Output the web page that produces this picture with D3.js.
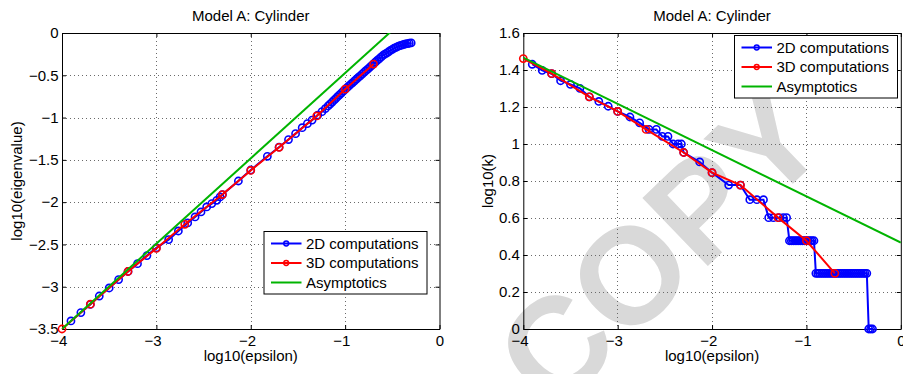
<!DOCTYPE html>
<html>
<head>
<meta charset="utf-8">
<script src="https://cdn.jsdelivr.net/npm/d3@7"></script>
<style>
  body { margin: 0; background: #fff; }
  svg { font-family: "Liberation Sans", Arial, Helvetica, sans-serif; }
  .grid line { stroke: #6a6a6a; stroke-dasharray: 1,3; shape-rendering: crispEdges; }
</style>
</head>
<body>
<svg id="chart" width="903" height="374"></svg>
<script>
// ---- data ----
// log10(epsilon) of the 2D runs, shared by both panels
const eps2D = [-3.905, -3.80, -3.70, -3.605, -3.50, -3.40, -3.30, -3.20, -3.10, -3.00,
  -2.87, -2.767, -2.668, -2.59, -2.527, -2.467, -2.413, -2.36, -2.325, -2.30,
  -2.131, -2.00, -1.824, -1.70, -1.60, -1.525, -1.455, -1.40, -1.35, -1.29,
  -1.245, -1.21,
  -1.18, -1.16, -1.14, -1.12, -1.10, -1.08, -1.06, -1.04, -1.02, -1.00,
  -0.98, -0.96, -0.94, -0.92, -0.90, -0.88, -0.86, -0.84, -0.82, -0.80,
  -0.78, -0.76, -0.74, -0.72, -0.70, -0.68, -0.66, -0.64, -0.62, -0.60,
  -0.58, -0.56, -0.54, -0.52, -0.50, -0.48, -0.46, -0.44, -0.42, -0.40,
  -0.38, -0.36, -0.34, -0.32, -0.30];

const eig2D = [-3.405, -3.306, -3.21, -3.11, -3.015, -2.916, -2.82, -2.727, -2.632, -2.54,
  -2.443, -2.341, -2.246, -2.175, -2.116, -2.057, -2.017, -1.978, -1.939, -1.91,
  -1.75, -1.62, -1.458, -1.35, -1.26, -1.19, -1.12, -1.072, -1.03, -0.97,
  -0.93, -0.895,
  -0.862, -0.840, -0.819, -0.797, -0.775, -0.753, -0.731, -0.710, -0.688, -0.666,
  -0.646, -0.626, -0.606, -0.586, -0.566, -0.546, -0.526, -0.506, -0.486, -0.466,
  -0.446, -0.426, -0.406, -0.385, -0.365, -0.345, -0.325, -0.305, -0.286, -0.266,
  -0.251, -0.237, -0.222, -0.207, -0.193, -0.180, -0.169, -0.159, -0.150, -0.143,
  -0.136, -0.130, -0.125, -0.121, -0.117];

const k2D = [1.431, 1.398, 1.380, 1.342, 1.322, 1.301, 1.255, 1.230, 1.204, 1.176,
  1.146, 1.114, 1.079, 1.079, 1.041, 1.041, 1.000, 1.000, 1.000, 0.954,
  0.903, 0.845, 0.778, 0.778, 0.699, 0.699, 0.699, 0.602, 0.602, 0.602,
  0.602, 0.602,
  0.477, 0.477, 0.477, 0.477, 0.477, 0.477, 0.477, 0.477, 0.477, 0.477,
  0.477, 0.477, 0.477, 0.477, 0.301, 0.301, 0.301, 0.301, 0.301, 0.301,
  0.301, 0.301, 0.301, 0.301, 0.301, 0.301, 0.301, 0.301, 0.301, 0.301,
  0.301, 0.301, 0.301, 0.301, 0.301, 0.301, 0.301, 0.301, 0.301, 0.301,
  0.301, 0.301, 0, 0, 0];

// 3D runs
const eps3D = [-4, -3.699, -3.301, -3, -2.699, -2.301, -2, -1.699, -1.301, -1, -0.699];
const eig3D = [-3.5, -3.207, -2.82, -2.547, -2.262, -1.91, -1.625, -1.352, -0.981, -0.664, -0.368];
const k3D = [1.462, 1.380, 1.255, 1.176, 1.079, 0.954, 0.845, 0.778, 0.602, 0.477, 0.301];

// asymptotic lines (end points)
const epsAsymEig = [-4, -0.3];
const eigAsym = [-3.5, 0.233];
const epsAsymK = [-4, 0];
const kAsym = [1.467, 0.467];

// ticks / labels
const xTicks = [-4, -3, -2, -1, 0];
const eigTicks = [-3.5, -3, -2.5, -2, -1.5, -1, -0.5, 0];
const kTicks = [0, 0.2, 0.4, 0.6, 0.8, 1, 1.2, 1.4, 1.6];
const legendLabels = ["2D computations", "3D computations", "Asymptotics"];
const titleText = "Model A: Cylinder";

// ---- chart config ----
const colors = { c2D: "#0000ff", c3D: "#ff0000", asym: "#00b400" };
const plotTop = 33, width = 377.5, height = 296;
const fmt = d3.format("~g");

const svg = d3.select("#chart");

// COPY watermark sits under everything
svg.append("text")
  .attr("transform", "translate(660,246) rotate(-44)")
  .attr("text-anchor", "middle")
  .attr("dominant-baseline", "central")
  .attr("font-size", 137)
  .attr("font-weight", "bold")
  .attr("fill", "#d9d9d9")
  .text("COPY");

const panels = [
  { left: 62, yDomain: [-3.5, 0], yTicks: eigTicks, ylabel: "log10(eigenvalue)", ylabelX: 21.5,
    y2D: eig2D, y3D: eig3D, asymX: epsAsymEig, asymY: eigAsym, legend: [263.5, 231] },
  { left: 523.3, yDomain: [0, 1.6], yTicks: kTicks, ylabel: "log10(k)", ylabelX: 492.5,
    y2D: k2D, y3D: k3D, asymX: epsAsymK, asymY: kAsym, legend: [734, 35] }
];

panels.forEach((p, pi) => {
  const g = svg.append("g").attr("transform", "translate(" + p.left + "," + plotTop + ")");

  const xScale = d3.scaleLinear().domain([-4, 0]).range([0, width]);
  const yScale = d3.scaleLinear().domain(p.yDomain).range([height, 0]);

  g.append("clipPath").attr("id", "clip" + pi)
    .append("rect").attr("width", width).attr("height", height);

  // dotted grid
  const grid = g.append("g").attr("class", "grid");
  grid.selectAll(".gx").data(xTicks.slice(1, -1)).join("line")
    .attr("x1", d => Math.round(xScale(d)) + 0.5).attr("x2", d => Math.round(xScale(d)) + 0.5)
    .attr("y1", 0).attr("y2", height);
  grid.selectAll(".gy").data(p.yTicks.slice(1, -1)).join("line")
    .attr("y1", d => Math.round(yScale(d)) + 0.5).attr("y2", d => Math.round(yScale(d)) + 0.5)
    .attr("x1", 0).attr("x2", width);

  // axes, ticks point inward like matlab
  const xAxis = g.append("g").attr("transform", "translate(0," + height + ")")
    .call(d3.axisBottom(xScale).tickValues(xTicks).tickFormat(fmt).tickSizeInner(-4).tickSizeOuter(0).tickPadding(6));
  xAxis.selectAll("text").filter(d => d < 0).attr("dx", -3.8);
  const yAxis = g.append("g")
    .call(d3.axisLeft(yScale).tickValues(p.yTicks).tickFormat(fmt).tickSizeInner(-4).tickSizeOuter(0).tickPadding(3.5));
  g.append("g").call(d3.axisTop(xScale).tickValues(xTicks).tickFormat("").tickSizeInner(-4).tickSizeOuter(0));
  g.append("g").attr("transform", "translate(" + width + ",0)")
    .call(d3.axisRight(yScale).tickValues(p.yTicks).tickFormat("").tickSizeInner(-4).tickSizeOuter(0));
  g.selectAll(".tick text").attr("font-size", 15).attr("fill", "#000");
  g.selectAll(".domain, .tick line").attr("stroke", "#000");
  [xAxis, yAxis].forEach(a => a.attr("font-family", null).attr("font-size", null));

  const lineGen = d3.line().x(d => xScale(d[0])).y(d => yScale(d[1]));
  const series = [
    { pts: d3.zip(eps2D, p.y2D), color: colors.c2D, marker: true, clip: false },
    { pts: d3.zip(eps3D, p.y3D), color: colors.c3D, marker: true, clip: false },
    { pts: d3.zip(p.asymX, p.asymY), color: colors.asym, marker: false, clip: true }
  ];
  series.forEach(s => {
    g.append("path")
      .attr("d", lineGen(s.pts))
      .attr("fill", "none")
      .attr("stroke", s.color)
      .attr("stroke-width", 2)
      .attr("clip-path", s.clip ? "url(#clip" + pi + ")" : null);
    if (s.marker) {
      g.append("g").selectAll("circle").data(s.pts).join("circle")
        .attr("cx", d => xScale(d[0]))
        .attr("cy", d => yScale(d[1]))
        .attr("r", 3.6)
        .attr("fill", "none")
        .attr("stroke", s.color)
        .attr("stroke-width", 1.6);
    }
  });

  // title + labels
  svg.append("text")
    .attr("x", p.left + width / 2).attr("y", 20.5)
    .attr("text-anchor", "middle").attr("font-size", 15)
    .text(titleText);
  svg.append("text")
    .attr("x", p.left + width / 2).attr("y", 361)
    .attr("text-anchor", "middle").attr("font-size", 15)
    .text("log10(epsilon)");
  svg.append("text")
    .attr("transform", "translate(" + p.ylabelX + "," + (plotTop + height / 2) + ") rotate(-90)")
    .attr("text-anchor", "middle").attr("font-size", 15)
    .text(p.ylabel);

  // legend
  const lg = svg.append("g").attr("transform", "translate(" + p.legend[0] + "," + p.legend[1] + ")");
  lg.append("rect").attr("x", 0.5).attr("y", 0.5).attr("width", 163).attr("height", 62.5)
    .attr("fill", "#fff").attr("stroke", "#000");
  const legColors = [colors.c2D, colors.c3D, colors.asym];
  legendLabels.forEach((lbl, i) => {
    const ry = 12.5 + i * 19.5;
    lg.append("line").attr("x1", 7.5).attr("x2", 38).attr("y1", ry).attr("y2", ry)
      .attr("stroke", legColors[i]).attr("stroke-width", 2);
    if (i < 2) {
      lg.append("circle").attr("cx", 22.7).attr("cy", ry).attr("r", 2.4)
        .attr("fill", "none").attr("stroke", legColors[i]).attr("stroke-width", 1.5);
    }
    lg.append("text").attr("x", 42.5).attr("y", ry).attr("dy", "0.35em")
      .attr("font-size", 15).text(lbl);
  });
});
</script>
</body>
</html>
